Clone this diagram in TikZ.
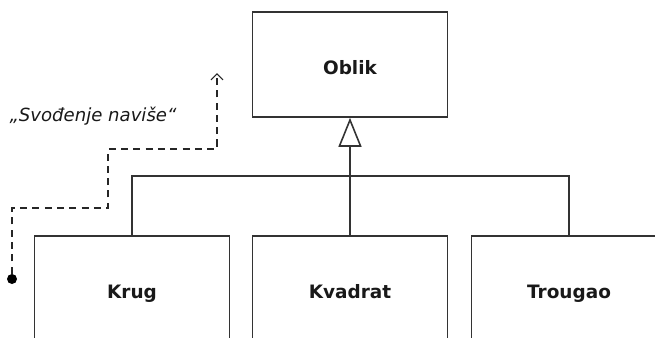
\documentclass[tikz,border=0pt]{standalone}
\usepackage{fontspec}
\setmainfont{DejaVu Sans}
\usepackage{tikz}
\usetikzlibrary{arrows.meta}

\begin{document}
\begin{tikzpicture}[
  box/.style={draw=black!80, line width=0.9pt, minimum width=3.9cm, minimum height=2.1cm,
    inner sep=0pt, text height=1.1em, text depth=0pt,
    font=\fontsize{10.5}{12}\selectfont\bfseries, text=black!90},
  line/.style={draw=black!80, line width=0.9pt},
  cast/.style={draw=black!85, line width=0.7pt, dash pattern=on 4pt off 3pt},
  dot/.style={circle, fill=black, inner sep=0pt, minimum size=0.2cm}]
\clip (0,0) rectangle (13.1,6.74);
% base class and the three subclasses
\node[box] (oblik) at (7.0,5.45) {Oblik};
\node[box] (krug) at (2.64,0.97) {Krug};
\node[box] (kvadrat) at (7.0,0.97) {Kvadrat};
\node[box] (trougao) at (11.38,0.97) {Trougao};
% inheritance tree
\coordinate (bus) at (7.0,3.22);
\draw[line, -{Triangle[open, length=0.58cm, width=0.46cm]}] (kvadrat.north) -- (oblik.south);
\draw[line] (krug.north) |- (bus) -| (trougao.north);
% upcast path
\node[dot] (start) at (0.24,1.16) {};
\coordinate (up) at (4.34,5.28);
\draw[cast, -{Straight Barb[length=0.12cm, width=0.24cm]}] (start) |- (2.16,2.58) |- (4.34,3.76) -- (up);
\node[font=\fontsize{10.3}{12}\selectfont\itshape, text=black!90] (cast) at (1.86,4.42) {„Svođenje naviše“};
\end{tikzpicture}
\end{document}
